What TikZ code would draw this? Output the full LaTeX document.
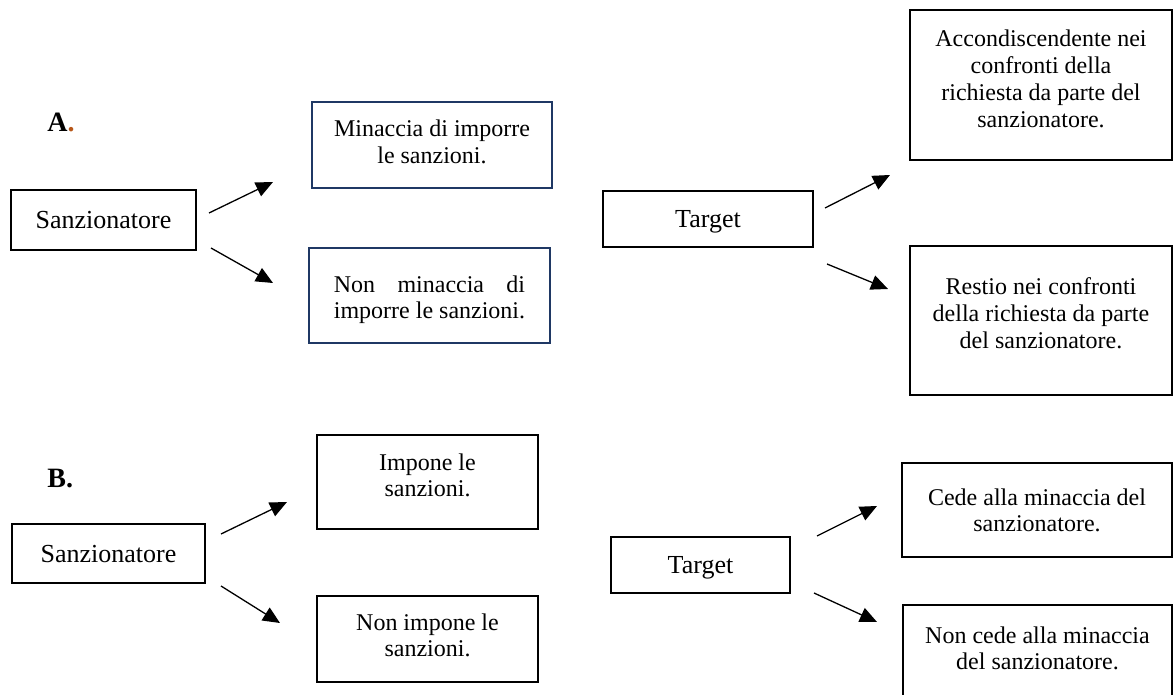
\documentclass[tikz,border=0pt]{standalone}
\usepackage{fontspec}
\setmainfont{Liberation Serif}
\usepackage{calc}
\usetikzlibrary{arrows.meta}
\definecolor{navyline}{RGB}{31,56,100}
\definecolor{dotbrown}{RGB}{183,87,25}
\newcommand\tbox[4]{\parbox[c][#1][t]{#2}{\centering\rule{0pt}{#3}#4}}
\begin{document}
\begin{tikzpicture}[x=0.5pt,y=-0.5pt,
  box/.style={draw, line width=1pt, inner sep=0pt, font=\fontsize{12}{13.4}\selectfont},
  navybox/.style={box, draw=navyline},
  bigbox/.style={draw, line width=1pt, inner sep=0pt, text depth=0pt, font=\fontsize{13}{15}\selectfont},
  lab/.style={inner sep=0pt, anchor=base west, font=\fontsize{14}{16}\selectfont\bfseries},
  arr/.style={-{Triangle[length=8.5pt,width=7.5pt]}, line width=0.65pt}]
\useasboundingbox (0,0) rectangle (1173,695);
\clip (0,0) rectangle (1173,695);

% ---- Part A ----
\node[lab] (labA) at (47,132) {A\textcolor{dotbrown}{.}};
\node[bigbox, minimum width=92.5pt, minimum height=30pt] (sA) at (103.5,220) {Sanzionatore};
\node[navybox] (mA) at (432,145) {\tbox{43pt}{120pt}{17.5pt}{Minaccia di imporre\\le sanzioni.}};
\node[navybox] (nmA) at (429.5,295.5) {\tbox{47.5pt}{120.5pt}{22pt}{\makebox[\widthof{imporre le sanzioni.}][s]{Non minaccia di}\\imporre le sanzioni.}};
\node[bigbox, minimum width=105pt, minimum height=28pt] (tA) at (708,219) {Target};
\node[box] (acA) at (1041,85) {\tbox{75pt}{131pt}{18.5pt}{Accondiscendente nei\\confronti della\\richiesta da parte del\\sanzionatore.}};
\node[box] (reA) at (1041,320.5) {\tbox{74.5pt}{131pt}{24.5pt}{Restio nei confronti\\della richiesta da parte\\del sanzionatore.}};

\coordinate (a1s) at (209,213); \coordinate (a1e) at (273,182);
\coordinate (a2s) at (211,248); \coordinate (a2e) at (273,283);
\coordinate (a3s) at (825,208); \coordinate (a3e) at (890,175);
\coordinate (a4s) at (827,264); \coordinate (a4e) at (888,289);
\draw[arr] (a1s) -- (a1e);
\draw[arr] (a2s) -- (a2e);
\draw[arr] (a3s) -- (a3e);
\draw[arr] (a4s) -- (a4e);

% ---- Part B ----
\node[lab] (labB) at (47,487) {B.};
\node[bigbox, minimum width=96.5pt, minimum height=29.5pt] (sB) at (108.5,553.5) {Sanzionatore};
\node[box] (imB) at (427.5,482) {\tbox{47pt}{110.5pt}{17.5pt}{Impone le\\sanzioni.}};
\node[box] (nimB) at (427.5,639) {\tbox{43pt}{110.5pt}{17pt}{Non impone le\\sanzioni.}};
\node[bigbox, minimum width=89.5pt, minimum height=28pt] (tB) at (700.5,565) {Target};
\node[box] (ceB) at (1037,510) {\tbox{47pt}{135pt}{21pt}{Cede alla minaccia del\\sanzionatore.}};
\node[box] (nceB) at (1037.5,680) {\tbox{75pt}{134.5pt}{19pt}{Non cede alla minaccia\\del sanzionatore.}};

\coordinate (b1s) at (221,534); \coordinate (b1e) at (287,502);
\coordinate (b2s) at (221,586); \coordinate (b2e) at (280,623);
\coordinate (b3s) at (817,536); \coordinate (b3e) at (877,506);
\coordinate (b4s) at (814,593); \coordinate (b4e) at (877,622);
\draw[arr] (b1s) -- (b1e);
\draw[arr] (b2s) -- (b2e);
\draw[arr] (b3s) -- (b3e);
\draw[arr] (b4s) -- (b4e);
\end{tikzpicture}
\end{document}
